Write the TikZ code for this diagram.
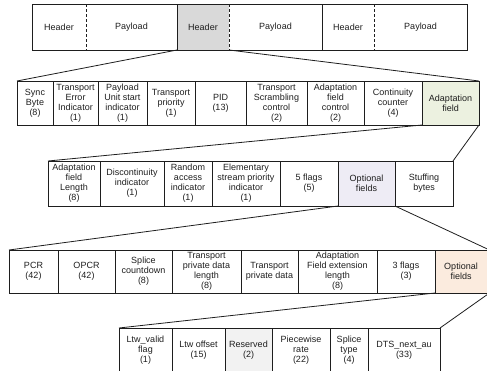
\documentclass[tikz,border=0pt]{standalone}
\usepackage{fontspec}
\setmainfont{Liberation Sans}
\definecolor{hdrgray}{RGB}{217,217,217}
\definecolor{afgreen}{RGB}{236,241,224}
\definecolor{optlav}{RGB}{238,236,245}
\definecolor{optpeach}{RGB}{251,235,222}
\definecolor{resgray}{RGB}{242,242,242}
\definecolor{ink}{RGB}{30,30,30}
\newcommand\fld[7]{\node[#6,minimum width={(#3-#2)*1pt},minimum height={#5*1pt}] (#1) at (#2,#4) {#7};}
\begin{document}
\begin{tikzpicture}[x=1pt,y=-1pt,
  base/.style={inner sep=0pt,outer sep=0pt,anchor=north west,align=center,
    font=\fontsize{9}{10}\selectfont,text=ink},
  cell/.style={base,draw=ink,line width=0.8pt},
  topcell/.style={base,draw=none},
  conn/.style={draw=ink,line width=0.8pt},
  divsolid/.style={draw=ink,line width=0.9pt},
  divdash/.style={draw=ink,line width=1pt,dash pattern=on 3pt off 2pt}]
\clip (0,0) rectangle (487,371);
% ---- row 1: transport stream
\fld{h1}{32}{86}{4.5}{45.5}{topcell}{Header}
\fld{p1}{86}{177}{4.5}{45.5}{topcell}{Payload}
\fld{h2}{177}{229}{4.5}{45.5}{topcell,fill=hdrgray}{Header}
\fld{p2}{229}{322}{4.5}{45.5}{topcell}{Payload}
\fld{h3}{322}{374}{4.5}{45.5}{topcell}{Header}
\fld{p3}{374}{467}{4.5}{45.5}{topcell}{Payload}
\draw[divsolid] (h1.north west) rectangle (p3.south east);
\draw[divdash] (h1.north east) -- (h1.south east);
\draw[divsolid] (p1.north east) -- (p1.south east);
\draw[divdash] (h2.north east) -- (h2.south east);
\draw[divsolid] (p2.north east) -- (p2.south east);
\draw[divdash] (h3.north east) -- (h3.south east);
% ---- row 2: header fields
\fld{sync}{17}{53}{81}{44}{cell}{Sync\\Byte\\(8)}
\fld{tei}{53}{98}{81}{44}{cell}{Transport\\Error\\Indicator\\(1)}
\fld{pusi}{98}{147}{81}{44}{cell}{Payload\\Unit start\\indicator\\(1)}
\fld{tp}{147}{195}{81}{44}{cell}{Transport\\priority\\(1)}
\fld{pid}{195}{246}{81}{44}{cell}{PID\\(13)}
\fld{tsc}{246}{307}{81}{44}{cell}{Transport\\Scrambling\\control\\(2)}
\fld{afc}{307}{364}{81}{44}{cell}{Adaptation\\field\\control\\(2)}
\fld{cc}{364}{422}{81}{44}{cell}{Continuity\\counter\\(4)}
\fld{adapt}{422}{479}{81}{44}{cell,fill=afgreen}{Adaptation\\field}
% ---- row 3: adaptation field
\fld{afl}{48}{100}{161}{45}{cell}{Adaptation\\field\\Length\\(8)}
\fld{disc}{100}{164}{161}{45}{cell}{Discontinuity\\indicator\\(1)}
\fld{rai}{164}{212}{161}{45}{cell}{Random\\access\\indicator\\(1)}
\fld{espi}{212}{280}{161}{45}{cell}{Elementary\\stream priority\\indicator\\(1)}
\fld{fivef}{280}{338}{161}{45}{cell}{5 flags\\(5)}
\fld{opta}{338}{395}{161}{45}{cell,fill=optlav}{Optional\\fields}
\fld{stuff}{395}{453}{161}{45}{cell}{Stuffing\\bytes}
% ---- row 4: optional fields
\fld{pcr}{9}{58}{250}{43}{cell}{PCR\\(42)}
\fld{opcr}{58}{115}{250}{43}{cell}{OPCR\\(42)}
\fld{splc}{115}{172}{250}{43}{cell}{Splice\\countdown\\(8)}
\fld{tpdl}{172}{241}{250}{43}{cell}{Transport\\private data\\length\\(8)}
\fld{tpd}{241}{298}{250}{43}{cell}{Transport\\private data}
\fld{afel}{298}{377}{250}{43}{cell}{Adaptation\\Field extension\\length\\(8)}
\fld{threef}{377}{435}{250}{43}{cell}{3 flags\\(3)}
\fld{optb}{435}{489.5}{250}{43}{cell,fill=optpeach}{\hspace*{-2.5pt}Optional\\\hspace*{-2.5pt}fields}
% ---- row 5: extension fields
\fld{ltwv}{119}{172}{328}{45}{cell}{Ltw\_valid\\flag\\(1)}
\fld{ltwo}{172}{225}{328}{45}{cell}{Ltw offset\\(15)}
\fld{resv}{225}{272}{328}{45}{cell,fill=resgray}{Reserved\\(2)}
\fld{pwr}{272}{330}{328}{45}{cell}{Piecewise\\rate\\(22)}
\fld{spt}{330}{368}{328}{45}{cell}{Splice\\type\\(4)}
\fld{dts}{368}{440}{328}{45}{cell}{DTS\_next\_au\\(33)}
% ---- expansion connectors
\draw[conn] (h2.south west) -- (sync.north west);
\draw[conn] (h2.south east) -- (adapt.north east);
\draw[conn] (adapt.south west) -- (afl.north west);
\draw[conn] (adapt.south east) -- (stuff.north east);
\draw[conn] (opta.south west) -- (pcr.north west);
\draw[conn] (opta.south east) -- (optb.north east);
\draw[conn] (optb.south west) -- (ltwv.north west);
\draw[conn] (optb.south east) -- (dts.north east);
\end{tikzpicture}
\end{document}
